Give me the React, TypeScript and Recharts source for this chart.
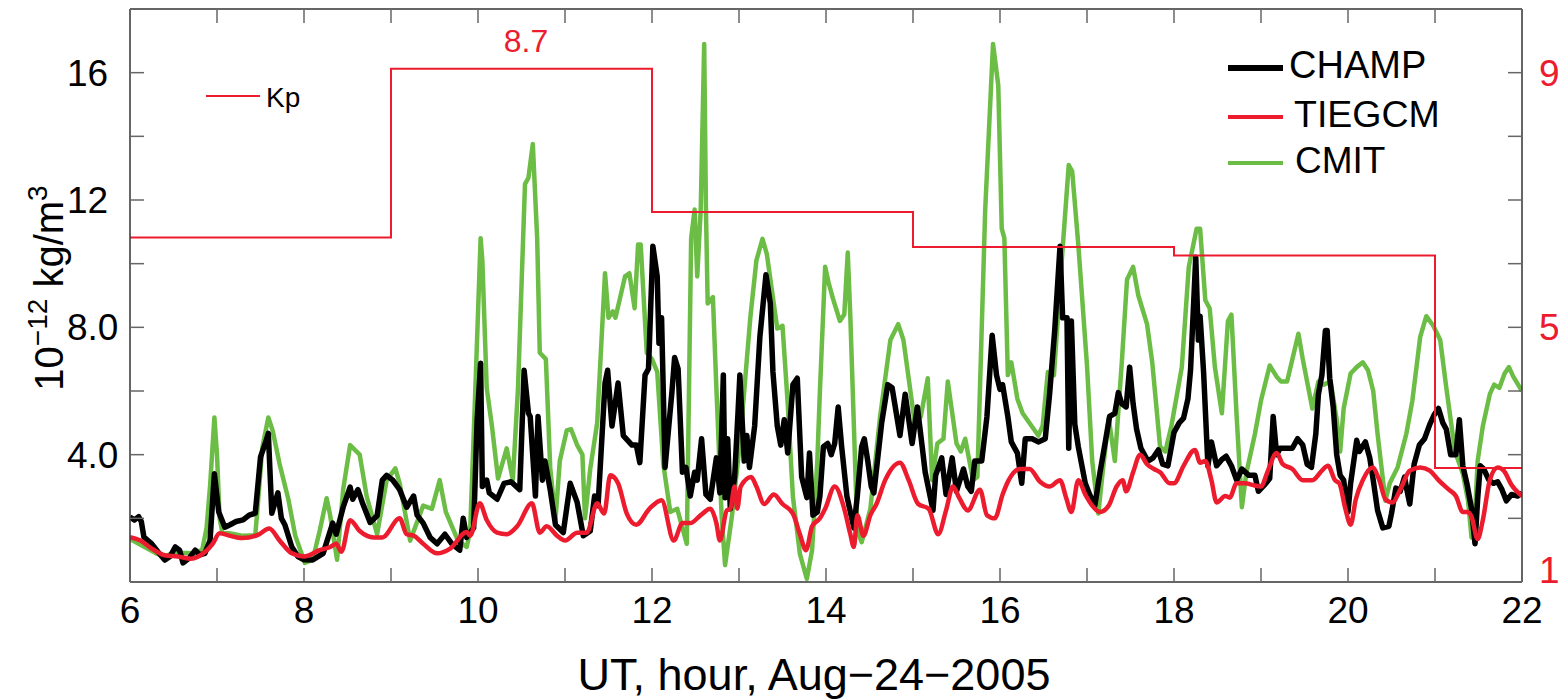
import { LineChart, Line, XAxis, YAxis } from 'recharts';

// CHAMP observed density, 10^-12 kg/m^3
const champHours = [
    6.0, 6.05, 6.1, 6.13, 6.16, 6.25, 6.32, 6.4, 6.46, 6.52, 6.57, 6.61, 6.68, 6.75, 6.8, 6.86, 6.92, 6.97, 7.02, 7.09,
    7.15, 7.22, 7.3, 7.37, 7.44, 7.5, 7.56, 7.59, 7.63, 7.7, 7.74, 7.78, 7.86, 7.93, 8.0, 8.1, 8.22, 8.33, 8.37, 8.45,
    8.53, 8.56, 8.62, 8.67, 8.76, 8.84, 8.9, 8.95, 9.02, 9.1, 9.18, 9.26, 9.3, 9.37, 9.45, 9.53, 9.62, 9.7, 9.79, 9.83,
    9.87, 9.95, 9.99, 10.03, 10.05, 10.1, 10.13, 10.22, 10.3, 10.38, 10.48, 10.53, 10.58, 10.6, 10.66, 10.69, 10.74, 10.77, 10.83, 10.89,
    10.98, 11.06, 11.14, 11.21, 11.29, 11.34, 11.38, 11.46, 11.49, 11.54, 11.61, 11.67, 11.77, 11.82, 11.86, 11.92, 11.96, 12.01, 12.06, 12.08,
    12.11, 12.15, 12.23, 12.26, 12.3, 12.35, 12.39, 12.44, 12.49, 12.52, 12.57, 12.62, 12.67, 12.74, 12.78, 12.82, 12.84, 12.87, 12.9, 12.95,
    12.99, 13.01, 13.06, 13.09, 13.12, 13.18, 13.24, 13.31, 13.36, 13.39, 13.44, 13.48, 13.52, 13.56, 13.62, 13.67, 13.72, 13.78, 13.81, 13.85,
    13.9, 13.93, 13.97, 14.02, 14.06, 14.1, 14.14, 14.18, 14.24, 14.32, 14.36, 14.41, 14.44, 14.48, 14.52, 14.55, 14.64, 14.71, 14.76, 14.85,
    14.91, 14.99, 15.05, 15.11, 15.14, 15.2, 15.23, 15.26, 15.33, 15.38, 15.45, 15.5, 15.58, 15.63, 15.67, 15.71, 15.79, 15.85, 15.91, 15.96,
    16.0, 16.03, 16.09, 16.13, 16.2, 16.25, 16.29, 16.37, 16.44, 16.52, 16.57, 16.63, 16.69, 16.72, 16.77, 16.79, 16.82, 16.86, 16.9, 16.98,
    17.03, 17.09, 17.15, 17.21, 17.26, 17.32, 17.36, 17.4, 17.45, 17.49, 17.53, 17.57, 17.62, 17.7, 17.76, 17.82, 17.87, 17.93, 18.0, 18.06,
    18.11, 18.16, 18.19, 18.25, 18.28, 18.3, 18.34, 18.39, 18.43, 18.49, 18.55, 18.6, 18.66, 18.72, 18.78, 18.86, 18.93, 18.97, 19.04, 19.1,
    19.14, 19.18, 19.22, 19.28, 19.36, 19.42, 19.48, 19.53, 19.58, 19.63, 19.66, 19.7, 19.74, 19.76, 19.79, 19.83, 19.87, 19.91, 19.95, 20.0,
    20.03, 20.1, 20.13, 20.2, 20.25, 20.29, 20.34, 20.4, 20.47, 20.5, 20.55, 20.6, 20.65, 20.68, 20.71, 20.76, 20.82, 20.88, 20.94, 20.99,
    21.04, 21.09, 21.13, 21.18, 21.24, 21.28, 21.32, 21.37, 21.42, 21.46, 21.49, 21.52, 21.56, 21.62, 21.67, 21.72, 21.77, 21.82, 21.88, 21.95,
    22.0,
];
const champValues = [
    2.04, 1.95, 2.05, 1.9, 1.41, 1.2, 0.95, 0.69, 0.8, 1.1, 1.0, 0.6, 0.75, 1.0, 0.85, 0.9, 1.3, 3.4, 2.2, 1.72,
    1.8, 1.9, 1.95, 2.1, 2.16, 3.92, 4.4, 4.67, 2.16, 2.8, 2.0, 1.8, 1.1, 0.8, 0.7, 0.69, 0.9, 1.85, 1.5, 2.35,
    2.98, 2.6, 2.9, 2.5, 1.87, 2.08, 3.2, 3.35, 3.2, 2.9, 2.35, 2.7, 2.1, 1.85, 1.4, 1.2, 1.5, 1.2, 1.0, 2.0,
    1.4, 1.7, 5.1, 6.87, 3.0, 3.2, 2.8, 2.6, 3.1, 3.15, 2.9, 6.65, 5.3, 5.2, 2.7, 5.2, 3.2, 3.8, 2.9, 1.8,
    1.55, 3.1, 2.5, 1.45, 1.6, 2.7, 2.4, 6.25, 6.65, 4.9, 6.25, 4.6, 4.3, 4.3, 3.75, 6.5, 6.7, 10.55, 9.6, 7.5,
    8.3, 3.6, 6.0, 7.05, 6.7, 3.45, 3.6, 2.7, 3.45, 3.2, 4.5, 2.75, 2.6, 3.9, 2.8, 6.5, 2.65, 4.5, 2.3, 3.3,
    5.4, 6.5, 3.8, 4.6, 3.6, 4.9, 7.7, 9.65, 8.75, 6.6, 4.9, 4.3, 5.1, 4.05, 6.2, 6.4, 3.3, 2.65, 4.05, 2.1,
    2.2, 2.7, 4.25, 4.35, 4.0, 4.35, 5.5, 4.25, 2.7, 1.7, 2.7, 4.25, 4.5, 3.8, 3.0, 2.8, 5.0, 6.2, 6.1, 4.6,
    5.9, 4.35, 5.5, 4.15, 3.45, 2.65, 2.25, 3.35, 3.9, 2.75, 3.9, 2.85, 3.55, 3.0, 2.85, 3.8, 3.8, 5.2, 7.75, 6.5,
    6.05, 6.2, 5.2, 4.4, 4.05, 3.1, 4.5, 4.5, 4.4, 4.5, 5.9, 7.95, 10.55, 8.3, 8.3, 4.2, 8.2, 4.95, 4.25, 3.1,
    2.75, 2.4, 3.45, 4.4, 5.2, 5.3, 5.95, 5.6, 5.5, 6.75, 5.6, 4.8, 4.2, 3.8, 3.9, 4.15, 3.7, 3.65, 4.7, 5.0,
    5.15, 5.75, 6.65, 10.2, 7.6, 8.35, 6.6, 3.65, 4.4, 3.65, 3.85, 3.95, 3.65, 3.2, 3.55, 3.35, 3.35, 2.85, 3.05, 3.25,
    5.2, 4.0, 4.2, 4.2, 4.2, 4.5, 4.3, 3.7, 3.6, 4.65, 5.9, 6.5, 7.9, 7.9, 6.4, 5.5, 4.0, 3.35, 3.2, 2.2,
    3.1, 4.45, 4.1, 4.4, 3.9, 3.2, 2.25, 1.7, 1.75, 2.15, 2.95, 2.85, 3.3, 2.85, 2.45, 3.7, 4.3, 4.5, 4.95, 5.25,
    5.45, 5.0, 4.8, 4.0, 4.0, 5.1, 3.65, 3.05, 2.3, 1.2, 2.6, 3.65, 3.55, 3.2, 3.1, 3.15, 2.9, 2.55, 2.75, 2.7,
    2.8,
];

// TIEGCM model density
const tiegcmHours = [
    6.0, 6.12, 6.25, 6.4, 6.55, 6.7, 6.86, 6.95, 7.03, 7.15, 7.29, 7.47, 7.6, 7.72, 7.86, 8.0, 8.18, 8.3, 8.37, 8.43,
    8.53, 8.64, 8.8, 8.9, 9.1, 9.18, 9.26, 9.37, 9.53, 9.68, 9.87, 9.91, 10.02, 10.1, 10.22, 10.33, 10.45, 10.62, 10.71, 10.79,
    10.91, 11.0, 11.14, 11.25, 11.37, 11.45, 11.52, 11.61, 11.71, 11.82, 11.97, 12.11, 12.25, 12.35, 12.44, 12.56, 12.67, 12.74, 12.78, 12.86,
    12.9, 12.95, 12.98, 13.02, 13.14, 13.2, 13.29, 13.4, 13.5, 13.62, 13.7, 13.77, 13.84, 13.93, 13.99, 14.1, 14.21, 14.28, 14.32, 14.36,
    14.43, 14.51, 14.58, 14.68, 14.85, 14.95, 15.06, 15.18, 15.29, 15.38, 15.46, 15.53, 15.63, 15.77, 15.85, 15.94, 16.03, 16.1, 16.23, 16.34,
    16.46, 16.57, 16.69, 16.76, 16.82, 16.9, 16.98, 17.06, 17.15, 17.25, 17.34, 17.41, 17.45, 17.53, 17.61, 17.69, 17.77, 17.84, 17.95, 18.0,
    18.11, 18.24, 18.3, 18.36, 18.43, 18.49, 18.59, 18.64, 18.72, 18.82, 18.9, 19.0, 19.08, 19.18, 19.25, 19.36, 19.48, 19.59, 19.7, 19.77,
    19.85, 19.9, 19.97, 20.03, 20.09, 20.17, 20.28, 20.36, 20.43, 20.51, 20.6, 20.71, 20.83, 20.94, 21.04, 21.16, 21.24, 21.32, 21.38, 21.42,
    21.49, 21.55, 21.63, 21.72, 21.79, 21.88, 22.0,
];
const tiegcmValues = [
    1.41, 1.3, 1.05, 0.84, 0.8, 0.73, 0.94, 1.2, 1.53, 1.45, 1.38, 1.48, 1.68, 1.3, 0.9, 0.8, 1.0, 1.1, 1.2, 0.95,
    1.94, 1.6, 1.4, 1.4, 2.0, 1.5, 1.46, 1.2, 0.9, 1.05, 1.57, 1.45, 2.47, 1.95, 1.55, 1.5, 1.75, 2.47, 1.55, 1.75,
    1.45, 1.3, 1.55, 1.55, 2.47, 2.15, 3.35, 3.1, 2.15, 1.8, 2.3, 2.57, 1.3, 1.85, 1.85, 2.1, 2.3, 1.85, 1.3, 2.25,
    2.3, 3.0, 2.3, 3.0, 3.3, 3.0, 2.45, 2.75, 2.45, 2.15, 1.5, 1.0, 1.75, 2.0, 2.3, 3.0, 2.3, 1.5, 1.1, 2.1,
    1.45, 2.1, 2.45, 3.2, 3.75, 3.2, 2.45, 2.3, 1.5, 2.25, 3.0, 2.65, 2.25, 2.9, 2.1, 2.0, 2.75, 3.2, 3.55, 3.55,
    3.15, 3.0, 3.2, 2.65, 2.2, 3.2, 2.75, 2.4, 2.2, 2.4, 3.0, 3.2, 2.85, 3.45, 4.0, 3.7, 3.55, 3.45, 3.1, 3.1,
    3.65, 4.15, 3.75, 3.8, 3.2, 2.5, 2.7, 2.65, 3.1, 3.1, 3.05, 3.0, 3.5, 4.05, 3.7, 3.55, 3.2, 3.2, 3.5, 3.65,
    3.2, 3.1, 2.3, 1.8, 2.6, 3.2, 3.6, 3.2, 2.6, 2.5, 2.9, 3.5, 3.6, 3.5, 3.2, 2.9, 2.7, 2.2, 2.2, 2.05,
    1.35, 1.95, 3.2, 3.6, 3.5, 3.05, 2.7,
];

// CMIT model density
const cmitHours = [
    6.0, 6.1, 6.2, 6.3, 6.4, 6.52, 6.6, 6.7, 6.83, 6.88, 6.92, 6.97, 7.0, 7.03, 7.06, 7.2, 7.3, 7.44, 7.48, 7.52,
    7.59, 7.64, 7.72, 7.82, 7.9, 8.01, 8.1, 8.18, 8.26, 8.3, 8.38, 8.45, 8.53, 8.64, 8.72, 8.84, 8.95, 9.05, 9.1, 9.22,
    9.37, 9.47, 9.56, 9.63, 9.77, 9.87, 9.91, 9.97, 10.03, 10.05, 10.1, 10.16, 10.23, 10.33, 10.4, 10.46, 10.54, 10.58, 10.63, 10.68,
    10.71, 10.78, 10.83, 10.89, 10.94, 11.02, 11.07, 11.14, 11.2, 11.23, 11.29, 11.37, 11.46, 11.5, 11.55, 11.58, 11.69, 11.74, 11.8, 11.84,
    11.87, 11.94, 12.0, 12.06, 12.13, 12.21, 12.29, 12.4, 12.45, 12.49, 12.52, 12.56, 12.6, 12.62, 12.64, 12.7, 12.74, 12.8, 12.84, 12.92,
    13.01, 13.13, 13.2, 13.27, 13.32, 13.44, 13.5, 13.56, 13.62, 13.7, 13.78, 13.84, 13.9, 13.93, 13.99, 14.03, 14.08, 14.16, 14.21, 14.25,
    14.28, 14.36, 14.41, 14.51, 14.62, 14.74, 14.83, 14.89, 15.02, 15.09, 15.17, 15.22, 15.28, 15.35, 15.4, 15.5, 15.55, 15.6, 15.69, 15.74,
    15.83, 15.92, 15.98, 16.02, 16.05, 16.09, 16.13, 16.2, 16.26, 16.44, 16.49, 16.55, 16.62, 16.71, 16.79, 16.83, 16.9, 17.0, 17.06, 17.13,
    17.18, 17.25, 17.32, 17.4, 17.46, 17.53, 17.59, 17.69, 17.75, 17.84, 17.9, 17.97, 18.09, 18.17, 18.26, 18.3, 18.36, 18.41, 18.47, 18.55,
    18.62, 18.66, 18.72, 18.78, 18.83, 18.93, 19.0, 19.1, 19.18, 19.23, 19.3, 19.43, 19.48, 19.59, 19.66, 19.72, 19.8, 19.87, 19.91, 19.95,
    20.03, 20.1, 20.17, 20.23, 20.29, 20.34, 20.43, 20.48, 20.57, 20.67, 20.74, 20.83, 20.9, 20.98, 21.06, 21.13, 21.23, 21.32, 21.38, 21.42,
    21.45, 21.49, 21.55, 21.63, 21.68, 21.74, 21.8, 21.85, 21.9, 22.0,
];
const cmitValues = [
    1.35, 1.2, 1.05, 0.9, 0.8, 0.95, 0.92, 0.9, 1.0, 1.7, 3.0, 5.17, 4.0, 2.0, 1.57, 1.5, 1.45, 1.47, 2.8, 4.2,
    5.17, 4.75, 3.7, 2.6, 1.45, 0.6, 0.7, 1.6, 2.63, 2.1, 0.7, 2.9, 4.3, 4.0, 2.7, 1.5, 3.2, 3.57, 3.1, 1.3,
    2.4, 2.3, 3.2, 2.2, 1.3, 1.1, 1.6, 6.1, 10.8, 10.1, 6.1, 4.9, 3.25, 4.2, 3.2, 6.1, 12.5, 12.7, 13.76, 10.8,
    7.2, 7.0, 3.6, 1.94, 3.8, 4.76, 4.8, 4.3, 4.0, 2.0, 3.55, 5.0, 9.7, 8.3, 8.5, 8.3, 9.6, 9.7, 8.6, 10.6,
    10.6, 7.2, 7.0, 6.6, 3.7, 2.2, 2.3, 1.2, 10.8, 11.7, 9.6, 11.7, 16.9, 11.7, 8.75, 8.95, 6.1, 2.1, 0.53, 2.1,
    4.35, 8.3, 10.1, 10.78, 10.3, 7.96, 8.05, 5.6, 2.67, 0.88, 0.1, 1.0, 3.8, 6.0, 9.9, 9.4, 8.9, 8.2, 8.4, 10.35,
    8.3, 1.6, 1.25, 2.3, 5.15, 7.6, 8.1, 7.6, 5.0, 5.2, 6.4, 3.2, 4.35, 4.5, 6.3, 4.35, 4.1, 4.5, 3.2, 3.3,
    11.7, 16.9, 15.6, 11.1, 10.8, 6.5, 6.9, 5.75, 5.3, 4.6, 4.9, 6.6, 6.5, 10.1, 13.1, 12.9, 10.6, 6.8, 3.8, 2.15,
    3.45, 5.15, 3.8, 6.9, 9.5, 9.9, 9.0, 8.1, 6.9, 4.25, 4.1, 4.9, 6.75, 9.9, 11.1, 11.1, 8.85, 8.6, 6.75, 5.3,
    8.2, 8.4, 5.2, 2.35, 3.4, 4.65, 5.7, 6.8, 6.45, 6.3, 6.3, 7.8, 7.0, 5.45, 6.3, 6.2, 6.3, 5.1, 4.1, 5.45,
    6.55, 6.75, 6.9, 6.65, 6.0, 4.65, 2.55, 3.1, 3.6, 4.65, 5.7, 7.7, 8.35, 8.05, 7.6, 6.1, 4.1, 3.4, 2.55, 1.4,
    1.5, 3.8, 4.9, 5.9, 6.2, 6.1, 6.55, 6.75, 6.45, 6.0,
];

// 3-hourly Kp index (right axis)
const kpHours = [6, 9, 12, 15, 18, 21, 22];
const kpValues = [6.41, 9.06, 6.81, 6.26, 6.13, 2.79, 2.79];

const hourTicks = [6, 7, 8, 9, 10, 11, 12, 13, 14, 15, 16, 17, 18, 19, 20, 21, 22];
const densityTicks = [0, 2, 4, 6, 8, 10, 12, 14, 16, 18];
const densityLabels: Record<number, string> = { 4: '4.0', 8: '8.0', 12: '12', 16: '16' };
const kpTicks = [1, 2, 3, 4, 5, 6, 7, 8, 9, 10];
const kpLabels = [1, 5, 9];

const zip = (xs: number[], ys: number[]) => xs.map((t, i) => ({ t, v: ys[i] }));
const champData = zip(champHours, champValues);
const tiegcmData = zip(tiegcmHours, tiegcmValues);
const cmitData = zip(cmitHours, cmitValues);
const kpData = zip(kpHours, kpValues);

const FONT = '"Liberation Sans", Arial, Helvetica, sans-serif';
const RED = '#ec1c2e';
const GREEN = '#6cbd45';
const TICK = '#666';
const FRAME = '#333';
const TICK_LEN = 14;

const BottomTick = ({ x, y, payload }: any) => (
    <g>
        <line x1={x} x2={x} y1={y} y2={y - TICK_LEN} stroke={TICK} strokeWidth={1.5} />
        {payload.value % 2 === 0 && (
            <text x={x} y={y + 41} textAnchor="middle" fontSize={37} fontFamily={FONT} fill="#000">
                {payload.value}
            </text>
        )}
    </g>
);

const TopTick = ({ x, y }: any) => (
    <line x1={x} x2={x} y1={y} y2={y + TICK_LEN} stroke={TICK} strokeWidth={1.5} />
);

const LeftTick = ({ x, y, payload }: any) => (
    <g>
        <line x1={x} x2={x + TICK_LEN} y1={y} y2={y} stroke={TICK} strokeWidth={1.5} />
        {densityLabels[payload.value] && (
            <text x={x - 63} y={y + 13} fontSize={37} fontFamily={FONT} fill="#000">
                {densityLabels[payload.value]}
            </text>
        )}
    </g>
);

const RightTick = ({ x, y, payload }: any) => (
    <g>
        <line x1={x} x2={x - TICK_LEN} y1={y} y2={y} stroke={TICK} strokeWidth={1.5} />
        {kpLabels.includes(payload.value) && (
            <text x={x + 17} y={payload.value === 1 ? y + 1 : y + 13} fontSize={37} fontFamily={FONT} fill={RED}>
                {payload.value}
            </text>
        )}
    </g>
);

export default function App() {
    return (
        <div style={{ position: 'relative', width: 1558, height: 692, fontFamily: FONT }}>
            <LineChart width={1558} height={692} margin={{ top: 0, right: 0, bottom: 0, left: 0 }}>
                <XAxis
                    dataKey="t"
                    type="number"
                    domain={[6, 22]}
                    ticks={hourTicks}
                    interval={0}
                    height={118}
                    tickSize={0}
                    tickMargin={0}
                    tick={<BottomTick />}
                    axisLine={{ stroke: FRAME, strokeWidth: 1.5 }}
                    allowDataOverflow
                />
                <XAxis
                    xAxisId="top"
                    orientation="top"
                    dataKey="t"
                    type="number"
                    domain={[6, 22]}
                    ticks={hourTicks}
                    interval={0}
                    height={1}
                    tickSize={0}
                    tickMargin={0}
                    tick={<TopTick />}
                    axisLine={{ stroke: FRAME, strokeWidth: 1.5 }}
                    allowDataOverflow
                />
                <YAxis
                    yAxisId="rho"
                    type="number"
                    domain={[0, 18]}
                    ticks={densityTicks}
                    interval={0}
                    width={122}
                    tickSize={0}
                    tickMargin={0}
                    tick={<LeftTick />}
                    axisLine={{ stroke: FRAME, strokeWidth: 1.5 }}
                    allowDataOverflow
                />
                <YAxis
                    yAxisId="kp"
                    orientation="right"
                    type="number"
                    domain={[1, 10]}
                    ticks={kpTicks}
                    interval={0}
                    width={44}
                    tickSize={0}
                    tickMargin={0}
                    tick={<RightTick />}
                    axisLine={{ stroke: FRAME, strokeWidth: 1.5 }}
                    allowDataOverflow
                />
                <Line data={cmitData} dataKey="v" yAxisId="rho" type="linear" stroke={GREEN} strokeWidth={4.5}
                      strokeLinejoin="round" dot={false} isAnimationActive={false} name="CMIT" />
                <Line data={champData} dataKey="v" yAxisId="rho" type="linear" stroke="#000" strokeWidth={5.5}
                      strokeLinejoin="round" dot={false} isAnimationActive={false} name="CHAMP" />
                <Line data={tiegcmData} dataKey="v" yAxisId="rho" type="monotone" stroke={RED} strokeWidth={4.5}
                      strokeLinejoin="round" dot={false} isAnimationActive={false} name="TIEGCM" />
                <Line data={kpData} dataKey="v" yAxisId="kp" type="stepAfter" stroke={RED} strokeWidth={2}
                      dot={false} isAnimationActive={false} name="Kp" />
            </LineChart>

            <svg width={1558} height={692} style={{ position: 'absolute', left: 0, top: 0, pointerEvents: 'none' }}
                 fontFamily={FONT}>
                {/* legend, top right */}
                <line x1={1220} x2={1275} y1={60} y2={60} stroke="#000" strokeWidth={6} />
                <text x={1281} y={70} fontSize={38}>CHAMP</text>
                <line x1={1220} x2={1275} y1={109} y2={109} stroke={RED} strokeWidth={4} />
                <text x={1286} y={119} fontSize={37.5}>TIEGCM</text>
                <line x1={1220} x2={1275} y1={155} y2={155} stroke={GREEN} strokeWidth={4} />
                <text x={1287} y={165} fontSize={37}>CMIT</text>

                {/* Kp key and peak value */}
                <line x1={198} x2={252} y1={88} y2={88} stroke={RED} strokeWidth={2} />
                <text x={258} y={99} fontSize={28}>Kp</text>
                <text x={518} y={44} fontSize={32} textAnchor="middle" fill={RED}>8.7</text>

                {/* axis titles */}
                <text transform="translate(55,280) rotate(-90)" textAnchor="middle" fontSize={40}>
                    10<tspan dy={-16} fontSize={28}>−12</tspan>
                    <tspan dy={16} fontSize={40}> kg/m</tspan>
                    <tspan dy={-16} fontSize={28}>3</tspan>
                </text>
                <text x={806} y={682} textAnchor="middle" fontSize={45}>UT, hour, Aug−24−2005</text>
            </svg>
        </div>
    );
}
